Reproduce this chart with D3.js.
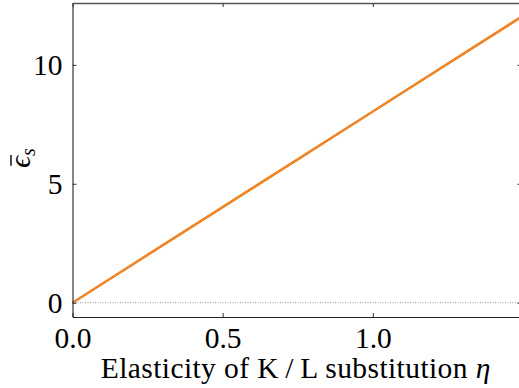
<!DOCTYPE html>
<html>
<head>
<meta charset="utf-8">
<script src="https://cdn.jsdelivr.net/npm/d3@7"></script>
<style>
  html, body { margin: 0; padding: 0; background: #fff; }
  svg { display: block; }
  text { font-family: "Liberation Serif", "DejaVu Serif", serif; fill: #000; }
</style>
</head>
<body>
<svg id="chart" width="519" height="388"></svg>
<script>
// ---- data ----
const eta = [0, 0.25, 0.5, 0.75, 1.0, 1.25, 1.5];
const epsBar = [0, 2.01, 4.02, 6.03, 8.04, 10.05, 12.06];
const xTicks = [0.0, 0.5, 1.0];
const yTicks = [0, 5, 10];
const xTickLabels = ["0.0", "0.5", "1.0"];
const yTickLabels = ["0", "5", "10"];
const xDomain = [0, 1.5];
const yDomain = [-0.6, 12.6];

const W = 519, H = 388;
const m = { left: 72.5, right: 523, top: 3, bottom: 317 };
const svg = d3.select("#chart");

const x = d3.scaleLinear().domain(xDomain).range([m.left, m.right]);
const y = d3.scaleLinear().domain(yDomain).range([m.bottom, m.top]);

const fs = 29.5;

// zero reference line (dotted)
svg.append("line")
  .attr("x1", x(xDomain[0])).attr("x2", x(xDomain[1]))
  .attr("y1", y(0)).attr("y2", y(0))
  .attr("stroke", "#777").attr("stroke-width", 0.8)
  .attr("stroke-dasharray", "1,1.5");

// series line
const pts = eta.map((e, i) => [e, epsBar[i]]);
svg.append("path")
  .datum(pts)
  .attr("fill", "none")
  .attr("stroke", "#ef8427")
  .attr("stroke-width", 2.6)
  .attr("d", d3.line().x(d => x(d[0])).y(d => y(d[1])));

// axes: ticks inward, on all sides
const tickLen = 4;
const bottomAxis = d3.axisBottom(x).tickValues(xTicks)
  .tickFormat((d, i) => xTickLabels[i]).tickSizeInner(-tickLen).tickSizeOuter(0).tickPadding(10);
const topAxis = d3.axisTop(x).tickValues(xTicks)
  .tickFormat("").tickSizeInner(-tickLen).tickSizeOuter(0);
const leftAxis = d3.axisLeft(y).tickValues(yTicks)
  .tickFormat((d, i) => yTickLabels[i]).tickSizeInner(-tickLen).tickSizeOuter(0).tickPadding(10);
const rightAxis = d3.axisRight(y).tickValues(yTicks)
  .tickFormat("").tickSizeInner(-tickLen).tickSizeOuter(0);

function style(g) {
  g.select(".domain").attr("stroke", "#222").attr("stroke-width", 1.1);
  g.selectAll(".tick line").attr("stroke", "#333").attr("stroke-width", 1);
  g.selectAll(".tick text")
    .attr("font-family", "Liberation Serif, DejaVu Serif, serif")
    .attr("font-size", fs).attr("fill", "#000");
}

const gb = svg.append("g").attr("transform", `translate(0,${m.bottom})`).call(bottomAxis).call(style);
gb.selectAll(".tick text").attr("dy", "0.71em");
svg.append("g").attr("transform", `translate(0,${m.top})`).call(topAxis).call(style)
  .select(".domain").attr("stroke", "#555").attr("stroke-width", 1.6);
const gl = svg.append("g").attr("transform", `translate(${m.left},0)`).call(leftAxis).call(style);
gl.selectAll(".tick text").attr("dy", "0.34em");
svg.append("g").attr("transform", `translate(${m.right - 1.5},0)`).call(rightAxis).call(style);

// x label (stretched by letter-spacing to the reference's wider serif)
const xl = svg.append("text")
  .attr("x", (m.left + m.right) / 2 - 2)
  .attr("y", 377.5)
  .attr("text-anchor", "middle")
  .attr("font-size", fs);
xl.append("tspan").text("Elasticity of K\u2009/\u2009L substitution ");
xl.append("tspan").attr("font-style", "italic").text("\u03B7");
const targetW = 390;
const curW = xl.node().getComputedTextLength();
const nChars = xl.text().length;
xl.attr("letter-spacing", ((targetW - curW) / nChars).toFixed(2) + "px");

// y label: epsilon with bar, subscript s
const yg = svg.append("g").attr("transform", `translate(30,158) rotate(-90)`);
const yl = yg.append("text").attr("font-size", fs);
const epsT = yl.append("tspan").attr("font-style", "italic").text("\u03F5");
yl.append("tspan").attr("font-style", "italic").attr("font-size", 20).attr("dy", 5).text("s");
const totW = yl.node().getComputedTextLength();
yl.attr("x", -totW / 2);
const epsW = epsT.node().getComputedTextLength();
yg.append("line")
  .attr("x1", -totW / 2 + 2).attr("x2", -totW / 2 + epsW + 1)
  .attr("y1", -19).attr("y2", -19)
  .attr("stroke", "#000").attr("stroke-width", 1.4);
</script>
</body>
</html>
